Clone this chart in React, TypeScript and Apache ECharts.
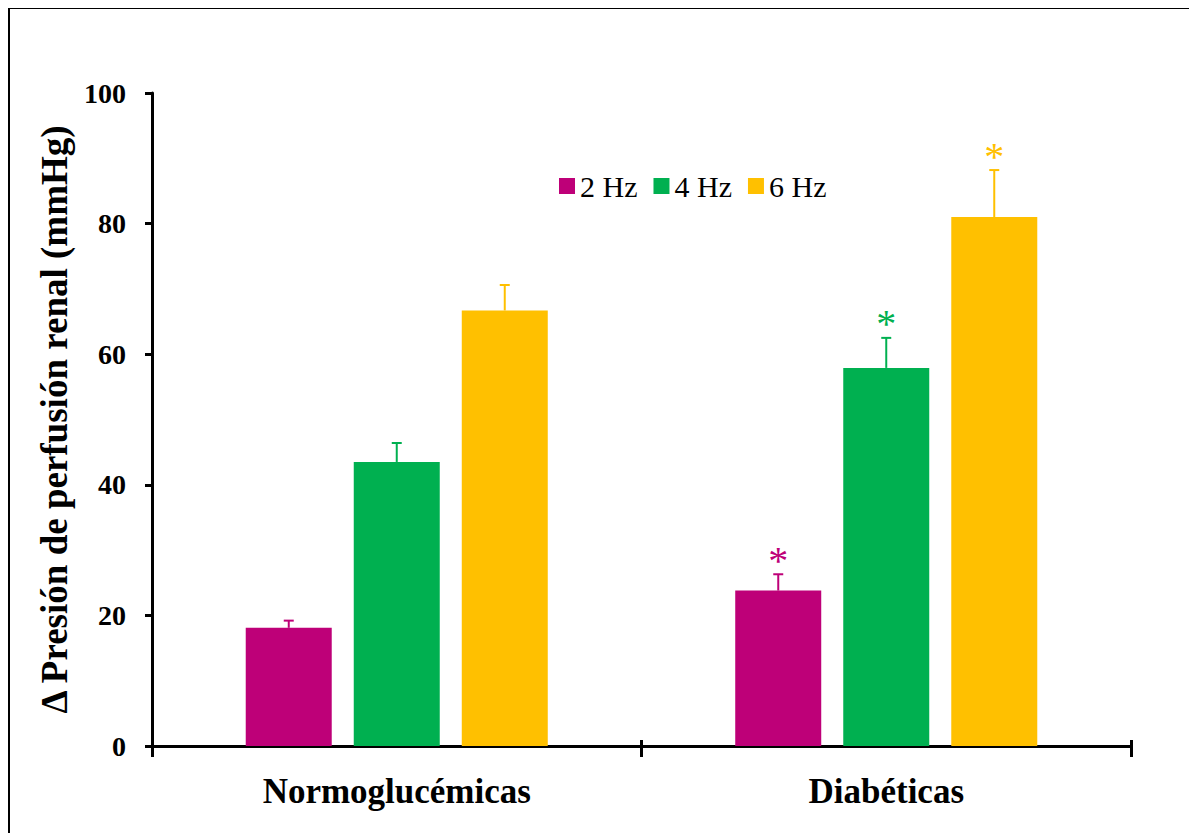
import React, { useEffect, useRef } from "react";
import * as echarts from "echarts";

const categories = ["Normoglucémicas", "Diabéticas"];
const seriesNames = ["2 Hz", "4 Hz", "6 Hz"];
const hz2 = [18.1, 23.8];
const hz4 = [43.5, 57.9];
const hz6 = [66.7, 81.0];
const err2 = [1.1, 2.5];
const err4 = [2.9, 4.6];
const err6 = [3.9, 7.2];
const sig2 = [false, true];
const sig4 = [false, true];
const sig6 = [false, true];
const yTicks = [0, 20, 40, 60, 80, 100];

const colors = ["#BE0078", "#00B050", "#FFC000"];
const FONT = "'Liberation Serif', 'Times New Roman', serif";

export default function App() {
  const ref = useRef<HTMLDivElement>(null);
  useEffect(() => {
    if (!ref.current) return;
    const chart = echarts.init(ref.current, undefined, { renderer: "svg" });
    const values = [hz2, hz4, hz6];
    const errs = [err2, err4, err6];
    const sigs = [sig2, sig4, sig6];
    const barWidth = 86;
    const step = 108;

    const bars = values.map((vals, i) => ({
      name: seriesNames[i],
      type: "bar",
      xAxisIndex: 0,
      data: vals,
      barWidth,
      barGap: "25.6%",
      itemStyle: { color: colors[i] },
      z: 2,
    }));

    const errSeries = values.map((vals, i) => ({
      name: seriesNames[i] + " err",
      type: "custom",
      xAxisIndex: 0,
      z: 5,
      silent: true,
      data: vals.map((v, j) => [j, v, errs[i][j], sigs[i][j] ? 1 : 0]),
      renderItem: (params: any, api: any) => {
        const ci = api.value(0);
        const v = api.value(1);
        const e = api.value(2);
        const s = api.value(3);
        const base = api.coord([ci, v]);
        const top = api.coord([ci, v + e]);
        const x = base[0] + (i - 1) * step;
        const children: any[] = [
          {
            type: "line",
            shape: { x1: x, y1: base[1], x2: x, y2: top[1] },
            style: { stroke: colors[i], lineWidth: 2 },
          },
          {
            type: "line",
            shape: { x1: x - 5, y1: top[1], x2: x + 5, y2: top[1] },
            style: { stroke: colors[i], lineWidth: 2 },
          },
        ];
        if (s) {
          children.push({
            type: "text",
            x: x,
            y: top[1] + 6,
            style: {
              text: "*",
              fill: colors[i],
              font: `40px ${FONT}`,
              align: "center",
              verticalAlign: "bottom",
            },
          });
        }
        return { type: "group", children };
      },
    }));

    chart.setOption({
      animation: false,
      backgroundColor: "#ffffff",
      graphic: [
        {
          type: "rect",
          shape: { x: 1, y: 0, width: 1400, height: 1000 },
          style: { fill: "none", stroke: "#000", lineWidth: 2 },
          silent: true,
        },
      ],
      legend: {
        data: seriesNames,
        left: 546,
        top: 158,
        icon: "rect",
        itemWidth: 16,
        itemHeight: 16,
        itemGap: 16,
        textStyle: { fontFamily: FONT, fontSize: 30, color: "#000" },
      },
      grid: { left: 144, right: 66, top: 85, bottom: 87, containLabel: false },
      xAxis: [
        {
          type: "category",
          data: categories,
          position: "bottom",
          axisLine: { show: true, lineStyle: { color: "#000", width: 3 } },
          axisTick: { show: true, length: 11, lineStyle: { color: "#000", width: 3 } },
          axisLabel: {
            margin: 28,
            fontFamily: FONT,
            fontSize: 35,
            fontWeight: "bold",
            color: "#000",
          },
          splitLine: { show: false },
        },
        {
          type: "category",
          data: categories,
          position: "bottom",
          gridIndex: 0,
          axisLine: { show: false },
          axisTick: { show: true, inside: true, length: 6, lineStyle: { color: "#000", width: 3 } },
          axisLabel: { show: false },
          splitLine: { show: false },
        },
      ],
      yAxis: {
        type: "value",
        min: yTicks[0],
        max: yTicks[yTicks.length - 1],
        interval: 20,
        name: "Δ Presión de perfusión renal (mmHg)",
        nameLocation: "middle",
        nameGap: 70,
        nameTextStyle: {
          fontFamily: FONT,
          fontSize: 37,
          fontWeight: "bold",
          color: "#000",
        },
        axisLine: { show: true, lineStyle: { color: "#000", width: 3 } },
        axisTick: { show: true, length: 7, lineStyle: { color: "#000", width: 3 } },
        axisLabel: {
          margin: 26,
          fontFamily: FONT,
          fontSize: 28,
          fontWeight: "bold",
          color: "#000",
        },
        splitLine: { show: false },
      },
      series: [...bars, ...errSeries],
    } as any);
    return () => chart.dispose();
  }, []);
  return <div ref={ref} style={{ width: 1189, height: 825 }} />;
}
